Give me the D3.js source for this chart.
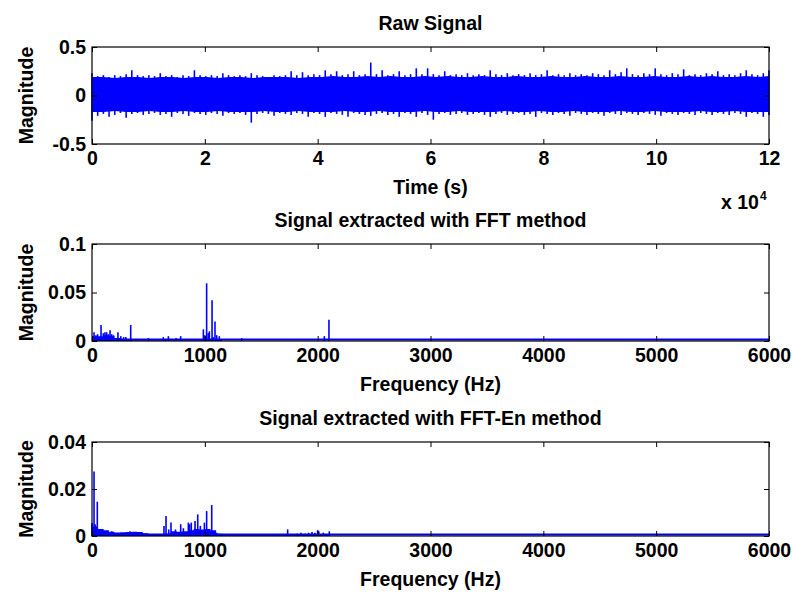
<!DOCTYPE html>
<html>
<head>
<meta charset="utf-8">
<script src="https://cdn.jsdelivr.net/npm/d3@7"></script>
<style>
body { margin: 0; background: #fff; }
text { font-family: "Liberation Sans", Arial, sans-serif; font-weight: bold; fill: #000; }
</style>
</head>
<body>
<div id="chart"></div>
<script>
// Raw signal: peak max / min per 1000-sample bin (120 bins over 0..12e4)
const rawHigh = [
  0.23,0.20,0.21,0.19,0.21,0.20,0.22,0.26,0.21,0.20,
  0.21,0.20,0.23,0.20,0.21,0.19,0.21,0.20,0.26,0.21,
  0.20,0.21,0.20,0.23,0.21,0.20,0.21,0.20,0.23,0.21,
  0.20,0.19,0.21,0.20,0.21,0.25,0.21,0.24,0.21,0.22,
  0.21,0.26,0.22,0.25,0.21,0.22,0.25,0.21,0.22,0.34,
  0.22,0.26,0.21,0.22,0.25,0.21,0.22,0.28,0.22,0.28,
  0.22,0.21,0.25,0.21,0.22,0.21,0.23,0.21,0.22,0.21,
  0.26,0.22,0.21,0.23,0.21,0.22,0.21,0.23,0.21,0.22,
  0.26,0.21,0.22,0.21,0.23,0.21,0.22,0.21,0.23,0.22,
  0.21,0.26,0.22,0.24,0.28,0.22,0.21,0.23,0.22,0.28,
  0.22,0.21,0.23,0.22,0.27,0.21,0.22,0.21,0.23,0.22,
  0.25,0.21,0.22,0.21,0.23,0.26,0.22,0.21,0.23,0.26
];
const rawLow = [
  -0.26,-0.21,-0.19,-0.22,-0.20,-0.18,-0.23,-0.19,-0.18,-0.20,
  -0.19,-0.18,-0.20,-0.19,-0.22,-0.18,-0.19,-0.21,-0.18,-0.19,
  -0.20,-0.18,-0.19,-0.21,-0.18,-0.19,-0.18,-0.20,-0.28,-0.19,
  -0.18,-0.19,-0.21,-0.18,-0.19,-0.20,-0.18,-0.19,-0.22,-0.18,
  -0.19,-0.22,-0.18,-0.19,-0.20,-0.22,-0.18,-0.19,-0.20,-0.21,
  -0.19,-0.18,-0.20,-0.19,-0.22,-0.18,-0.19,-0.22,-0.18,-0.20,
  -0.25,-0.19,-0.18,-0.20,-0.19,-0.18,-0.20,-0.19,-0.18,-0.20,
  -0.22,-0.19,-0.18,-0.20,-0.19,-0.18,-0.20,-0.19,-0.22,-0.18,
  -0.19,-0.20,-0.18,-0.19,-0.21,-0.18,-0.19,-0.20,-0.18,-0.19,
  -0.21,-0.18,-0.19,-0.20,-0.18,-0.19,-0.20,-0.18,-0.19,-0.20,
  -0.21,-0.18,-0.19,-0.20,-0.18,-0.19,-0.20,-0.18,-0.19,-0.20,
  -0.18,-0.19,-0.20,-0.18,-0.19,-0.22,-0.18,-0.19,-0.22,-0.20
];
// Raw signal: solid core of the band per 2000-sample bin (60 bins)
const rawCoreHigh = [
  0.19,0.19,0.18,0.19,0.19,0.18,0.19,0.19,0.18,0.19,
  0.19,0.18,0.19,0.19,0.18,0.19,0.19,0.19,0.18,0.19,
  0.19,0.20,0.19,0.19,0.20,0.19,0.20,0.19,0.19,0.20,
  0.19,0.20,0.19,0.19,0.20,0.19,0.19,0.20,0.19,0.19,
  0.20,0.19,0.19,0.20,0.19,0.19,0.20,0.19,0.19,0.20,
  0.19,0.19,0.20,0.19,0.20,0.19,0.19,0.20,0.19,0.20
];
const rawCoreLow = [
  -0.17,-0.17,-0.16,-0.17,-0.17,-0.16,-0.17,-0.17,-0.16,-0.17,
  -0.17,-0.16,-0.17,-0.17,-0.17,-0.16,-0.17,-0.17,-0.16,-0.17,
  -0.17,-0.17,-0.16,-0.17,-0.17,-0.16,-0.17,-0.17,-0.17,-0.16,
  -0.17,-0.17,-0.16,-0.17,-0.17,-0.17,-0.16,-0.17,-0.17,-0.16,
  -0.17,-0.17,-0.16,-0.17,-0.17,-0.17,-0.16,-0.17,-0.17,-0.16,
  -0.17,-0.17,-0.17,-0.16,-0.17,-0.17,-0.16,-0.17,-0.17,-0.17
];

// FFT method spectrum: spikes [Hz, magnitude] and low noise floor
const fftFreq = [18,35,50,80,100,115,130,145,160,175,190,230,255,280,300,320,343,500,632,650,677,745,786,987,1000,1016,1030,1040,1064,1075,1090,1105,1128,1327,2059,2100];
const fftMag  = [0.009,0.006,0.007,0.0165,0.008,0.009,0.009,0.007,0.011,0.007,0.006,0.009,0.005,0.004,0.004,0.002,0.0165,0.003,0.004,0.002,0.005,0.003,0.005,0.012,0.006,0.0595,0.008,0.010,0.042,0.004,0.020,0.006,0.005,0.003,0.005,0.022];
const fftFloorFreq = [0,50,100,150,200,250,300,350,1000,1050,1100,1150];
const fftFloorMag  = [0.005,0.005,0.006,0.005,0.003,0.002,0.0015,0.0006,0.002,0.002,0.001,0.0004];

// FFT-En method spectrum
const fftEnFreq = [0,18,28,47,70,95,175,336,638,656,680,700,740,786,810,854,866,880,913,937,960,996,1016,1061,1105,1734,1820,1852,1890,1920,1950,1975,2000,2010,2050,2103];
const fftEnMag  = [0.0055,0.0275,0.005,0.0146,0.0025,0.003,0.002,0.002,0.0043,0.0085,0.0028,0.0057,0.0028,0.005,0.0033,0.0057,0.005,0.0057,0.0064,0.0092,0.0043,0.0057,0.0106,0.0132,0.0014,0.0028,0.001,0.0014,0.001,0.0014,0.0017,0.0014,0.0025,0.002,0.0014,0.002];
const fftEnFloorFreq = [0,50,100,150,200,250,300,350,400,450,500,550,600,650,700,750,800,850,900,950,1000,1050,1100,1150,1800,2100];
const fftEnFloorMag  = [0.004,0.003,0.0025,0.0018,0.0015,0.0016,0.0017,0.0018,0.0017,0.0012,0.0009,0.0007,0.0008,0.001,0.002,0.0018,0.002,0.0024,0.003,0.0028,0.003,0.0025,0.001,0.0003,0.0007,0.0003];

// axis ticks
const rawXTicks = [0,2,4,6,8,10,12];
const rawYTicks = [-0.5,0,0.5];
const freqTicks = [0,1000,2000,3000,4000,5000,6000];
const fftYTicks = [0,0.05,0.1];
const fftEnYTicks = [0,0.02,0.04];

const width = 792;
const height = 595;
const left = 92, right = 769;
const blue = `#0000ff`;
const fontSize = `19.5px`;

const svg = d3.select(`#chart`).append(`svg`)
  .attr(`width`, width)
  .attr(`height`, height);

const drawPanel = (top, bottom, xDomain, yDomain, xTicks, yTicks, title, xLabel) => {
  const x = d3.scaleLinear().domain(xDomain).range([left, right]);
  const y = d3.scaleLinear().domain(yDomain).range([bottom, top]);
  const g = svg.append(`g`);

  const plot = g.append(`g`);

  // ticks inside the box, MATLAB style
  const fmt = d => String(d);
  g.append(`g`).attr(`transform`, `translate(0,${bottom})`)
    .call(d3.axisBottom(x).tickValues(xTicks).tickSize(-5).tickPadding(7).tickFormat(fmt))
    .call(a => a.select(`.domain`).remove());
  g.append(`g`).attr(`transform`, `translate(0,${top})`)
    .call(d3.axisTop(x).tickValues(xTicks).tickSize(-5).tickFormat(``))
    .call(a => a.select(`.domain`).remove());
  g.append(`g`).attr(`transform`, `translate(${left},0)`)
    .call(d3.axisLeft(y).tickValues(yTicks).tickSize(-5).tickPadding(6).tickFormat(fmt))
    .call(a => a.select(`.domain`).remove());
  g.append(`g`).attr(`transform`, `translate(${right},0)`)
    .call(d3.axisRight(y).tickValues(yTicks).tickSize(-5).tickFormat(``))
    .call(a => a.select(`.domain`).remove());

  g.selectAll(`.tick text`)
    .style(`font-size`, fontSize)
    .style(`font-family`, `"Liberation Sans", Arial, sans-serif`)
    .style(`font-weight`, `bold`)
    .attr(`fill`, `#000`);
  g.selectAll(`.tick line`).attr(`stroke`, `#000`);

  g.append(`rect`)
    .attr(`x`, left).attr(`y`, top)
    .attr(`width`, right - left).attr(`height`, bottom - top)
    .attr(`fill`, `none`).attr(`stroke`, `#000`).attr(`stroke-width`, 1.2);

  g.append(`text`)
    .attr(`x`, (left + right) / 2).attr(`y`, top - 17)
    .attr(`text-anchor`, `middle`)
    .style(`font-size`, fontSize)
    .text(title);

  g.append(`text`)
    .attr(`x`, (left + right) / 2).attr(`y`, bottom + 50)
    .attr(`text-anchor`, `middle`)
    .style(`font-size`, fontSize)
    .text(xLabel);

  g.append(`text`)
    .attr(`transform`, `translate(33,${(top + bottom) / 2}) rotate(-90)`)
    .attr(`text-anchor`, `middle`)
    .style(`font-size`, fontSize)
    .text(`Magnitude`);

  return {plot, x, y};
};

// ---- Raw signal ----
const p1 = drawPanel(47, 144, [0, 12], [-0.5, 0.5], rawXTicks, rawYTicks, `Raw Signal`, `Time (s)`);
const coreStep = 12 / (rawCoreHigh.length - 1);
p1.plot.append(`path`)
  .datum(rawCoreHigh)
  .attr(`fill`, blue)
  .attr(`d`, d3.area()
    .x((d, i) => p1.x(i * coreStep))
    .y0((d, i) => p1.y(rawCoreLow[i]))
    .y1(d => p1.y(d)));

const step = 12 / (rawHigh.length - 1);
p1.plot.selectAll(`.spike`)
  .data(rawHigh)
  .join(`line`)
  .attr(`class`, `spike`)
  .attr(`x1`, (d, i) => p1.x(i * step))
  .attr(`x2`, (d, i) => p1.x(i * step))
  .attr(`y1`, (d, i) => p1.y(rawLow[i]))
  .attr(`y2`, d => p1.y(d))
  .attr(`stroke`, blue)
  .attr(`stroke-width`, 1.6);

const sx = svg.append(`text`)
  .attr(`x`, 721).attr(`y`, 209)
  .style(`font-size`, fontSize);
sx.append(`tspan`).text(`x 10`);
sx.append(`tspan`).attr(`dy`, -9).attr(`dx`, 1).style(`font-size`, `12px`).text(`4`);

// ---- spectrum panels ----
const drawSpectrum = (p, floorF, floorM, freq, mag) => {
  p.plot.append(`path`)
    .datum(floorF)
    .attr(`fill`, blue)
    .attr(`d`, d3.area().curve(d3.curveStepAfter)
      .x(d => p.x(d))
      .y0(p.y(0))
      .y1((d, i) => p.y(floorM[i])));

  p.plot.append(`line`)
    .attr(`x1`, p.x(0)).attr(`x2`, p.x(6000))
    .attr(`y1`, p.y(0) - 1.5).attr(`y2`, p.y(0) - 1.5)
    .attr(`stroke`, blue).attr(`stroke-width`, 2.2);

  p.plot.selectAll(`.stem`)
    .data(freq)
    .join(`line`)
    .attr(`class`, `stem`)
    .attr(`x1`, d => p.x(d)).attr(`x2`, d => p.x(d))
    .attr(`y1`, p.y(0))
    .attr(`y2`, (d, i) => p.y(mag[i]))
    .attr(`stroke`, blue)
    .attr(`stroke-width`, 1.6);
};

const p2 = drawPanel(244, 341, [0, 6000], [0, 0.1], freqTicks, fftYTicks, `Signal extracted with FFT method`, `Frequency (Hz)`);
drawSpectrum(p2, fftFloorFreq, fftFloorMag, fftFreq, fftMag);

const p3 = drawPanel(442, 536, [0, 6000], [0, 0.04], freqTicks, fftEnYTicks, `Signal extracted with FFT-En method`, `Frequency (Hz)`);
drawSpectrum(p3, fftEnFloorFreq, fftEnFloorMag, fftEnFreq, fftEnMag);
</script>
</body>
</html>
